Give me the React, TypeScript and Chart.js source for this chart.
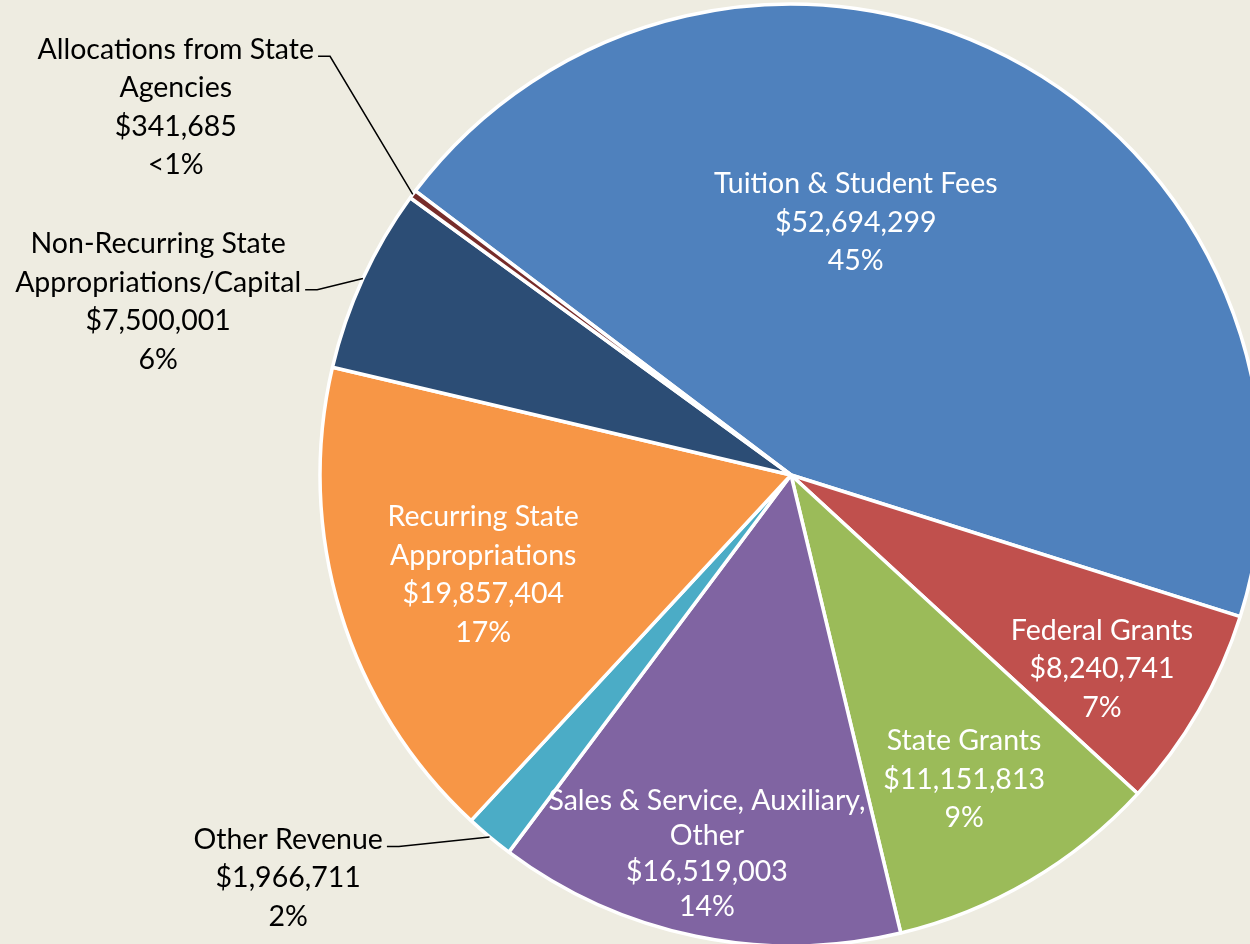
import React, { useEffect, useRef } from 'react';
import { Chart, registerables } from 'chart.js';

Chart.register(...registerables);

// ---- data ----
const categories: string[][] = [
  ['Tuition & Student Fees'],
  ['Federal Grants'],
  ['State Grants'],
  ['Sales & Service, Auxiliary,', 'Other'],
  ['Other Revenue'],
  ['Recurring State', 'Appropriations'],
  ['Non-Recurring State', 'Appropriations/Capital'],
  ['Allocations from State', 'Agencies'],
];
const revenues: number[] = [
  52694299, 8240741, 11151813, 16519003, 1966711, 19857404, 7500001, 341685,
];
const sliceColors: string[] = [
  '#4F81BD', '#C0504D', '#9BBB59', '#8064A2', '#4BACC6', '#F79646', '#2C4D75', '#772C2A',
];

// ---- styling / label placement ----
const BG = '#EEECE1';
const FONT = '28.5px Lato';
const LINE_H = 38.5;
const labelPlacement = [
  { off: -12.9, r: 0.553, inside: true },
  { off: 1.9, r: 0.778, inside: true },
  { off: 0.85, r: 0.744, inside: true },
  { off: 0.85, r: 0.824, inside: true, lh: 35.5 },
  { off: 11.5, r: 1.368, inside: false },
  { off: -1.0, r: 0.687, inside: true },
  { off: -9.35, r: 1.393, inside: false },
  { off: -5.7, r: 1.522, inside: false },
];

const pctText = (v: number, total: number) => {
  const p = (v / total) * 100;
  return p < 0.5 ? '<1%' : Math.round(p) + '%';
};

const labelPlugin = {
  id: 'sliceLabels',
  afterDatasetsDraw(chart: any) {
    const ctx: CanvasRenderingContext2D = chart.ctx;
    const meta = chart.getDatasetMeta(0);
    const total = revenues.reduce((a, b) => a + b, 0);
    ctx.save();
    ctx.font = FONT;
    ctx.textAlign = 'center';
    ctx.textBaseline = 'middle';
    meta.data.forEach((arc: any, i: number) => {
      const { x, y, startAngle, endAngle, outerRadius } = arc.getProps(
        ['x', 'y', 'startAngle', 'endAngle', 'outerRadius'],
        true
      );
      const mid = (startAngle + endAngle) / 2;
      const p = labelPlacement[i];
      const a = mid + (p.off * Math.PI) / 180;
      const cx = x + Math.cos(a) * outerRadius * p.r;
      const cy = y + Math.sin(a) * outerRadius * p.r;
      const lines = [
        ...categories[i],
        '$' + revenues[i].toLocaleString('en-US'),
        pctText(revenues[i], total),
      ];
      const lh = (p as any).lh ?? LINE_H;
      const top = cy - ((lines.length - 1) * lh) / 2;
      ctx.fillStyle = p.inside ? '#FFFFFF' : '#000000';
      lines.forEach((t, k) => ctx.fillText(t, cx, top + k * lh));
      if (!p.inside) {
        let wi = 0;
        let wmax = 0;
        lines.forEach((t, k) => {
          const w = ctx.measureText(t).width;
          if (w > wmax) {
            wmax = w;
            wi = k;
          }
        });
        const ly = top + wi * lh + 7;
        const lx0 = cx + wmax / 2 + 4;
        const lx1 = lx0 + 12;
        const ex = x + Math.cos(mid) * outerRadius;
        const ey = y + Math.sin(mid) * outerRadius;
        ctx.beginPath();
        ctx.moveTo(lx0, ly);
        ctx.lineTo(lx1, ly);
        ctx.lineTo(ex, ey);
        ctx.strokeStyle = '#000000';
        ctx.lineWidth = 1.5;
        ctx.stroke();
      }
    });
    ctx.restore();
  },
};

export default function App() {
  const canvasRef = useRef<HTMLCanvasElement | null>(null);

  useEffect(() => {
    if (!canvasRef.current) return;
    const chart = new Chart(canvasRef.current, {
      type: 'pie',
      data: {
        labels: categories.map((c) => c.join(' ')),
        datasets: [
          {
            data: revenues,
            backgroundColor: sliceColors,
            borderColor: '#FFFFFF',
            borderWidth: 3.5,
            clip: false as any,
          },
        ],
      },
      options: {
        animation: false,
        responsive: false,
        maintainAspectRatio: false,
        rotation: -52.9,
        radius: 471,
        layout: { padding: { left: 332, right: 0, top: 6, bottom: 0 } },
        plugins: {
          legend: { display: false },
          tooltip: { enabled: false },
        },
      },
      plugins: [labelPlugin],
    });
    return () => chart.destroy();
  }, []);

  return (
    <div
      style={{
        position: 'fixed',
        left: 0,
        top: 0,
        width: 1250,
        height: 944,
        overflow: 'hidden',
        background: BG,
      }}
    >
      <canvas
        ref={canvasRef}
        width={1250}
        height={944}
        style={{ position: 'absolute', left: 0, top: 0, width: 1250, height: 944 }}
      />
    </div>
  );
}
